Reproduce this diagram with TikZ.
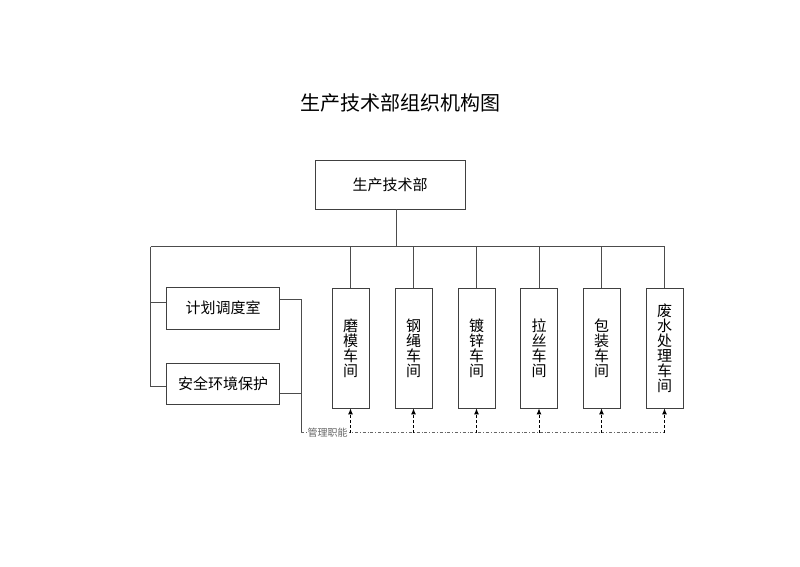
\documentclass[tikz,border=0pt]{standalone}
\usepackage{fontspec}
\setmainfont{Noto Sans CJK SC}
\usetikzlibrary{arrows.meta}
\begin{document}
\begin{tikzpicture}[x=1pt,y=-1pt]
\tikzstyle{every node}+=[inner sep=0pt]
\tikzstyle{box}=[draw=black!75, line width=0.8pt, font=\fontsize{15pt}{15pt}\selectfont]
\tikzstyle{wire}=[draw=black!70, line width=0.8pt]
\useasboundingbox (0,0) rectangle (800,566);
\node (title) at (400,103) {\fontsize{20pt}{20pt}\selectfont 生产技术部组织机构图};
\node [box, minimum width=150pt, minimum height=49pt] (top) at (390,184.5) {生产技术部};
\node [box, minimum width=112.6pt, minimum height=41.7pt] (plan) at (223,308.2) {计划调度室};
\node [box, minimum width=112.6pt, minimum height=41pt] (safe) at (223,383.8) {安全环境保护};
% bus and workshops
\coordinate (bus) at (396,246.5);
\coordinate (busL) at (150.7,246.5);
\coordinate (busR) at (664.5,246.5);
\coordinate (mgr) at (301,432.5);
\coordinate (planW) at ([yshift=6pt]plan.west);
\coordinate (planE) at ([yshift=9pt]plan.east);
\coordinate (safeW) at ([yshift=-3pt]safe.west);
\coordinate (safeE) at ([yshift=-9.5pt]safe.east);
\draw [wire] (top.south -| bus) -- (bus);
\draw [wire] (busL) -- (busR);
\foreach \name/\x/\txt in {mo/350.5/磨\\模\\车\\间, gang/413.5/钢\\绳\\车\\间, du/476.5/镀\\锌\\车\\间, la/539/拉\\丝\\车\\间, bao/601.5/包\\装\\车\\间, fei/664.5/废\\水\\处\\理\\车\\间}{
  \node [box, align=center, minimum width=37pt, minimum height=120pt] (\name) at (\x,348) {\txt};
  \draw [wire] (\name.north) -- (\name.north |- busL);
}
% left side
\draw [wire] (busL) |- (safeW);
\draw [wire] (busL |- planW) -- (planW);
\draw [wire] (planE) -| (mgr);
\draw [wire] (safeE) -- (safeE -| mgr);
% management line
\draw [black!60, line width=0.7pt, dash dot] (mgr) -- (mgr -| fei);
\node [fill=white, inner xsep=1pt, text=black!60, font=\fontsize{10pt}{10pt}\selectfont] (duty) at (327.5,432.5) {管理职能};
\foreach \name in {mo,gang,du,la,bao,fei}
  \draw [black, line width=0.9pt, dash pattern=on 3pt off 2pt, -{Latex[length=6pt,width=5pt]}] (mgr -| \name) -- (\name.south);
\end{tikzpicture}
\end{document}
